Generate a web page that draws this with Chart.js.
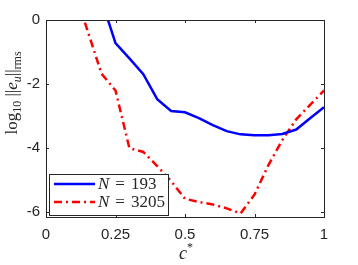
<!DOCTYPE html>
<html>
<head>
<meta charset="utf-8">
<script src="https://cdn.jsdelivr.net/npm/chart.js@4"></script>
<style>
  html, body { margin: 0; padding: 0; background: #fff; }
  #wrap { width: 358px; height: 265px; }
</style>
</head>
<body>
<div id="wrap"><canvas id="err-chart"></canvas></div>
<script>
// c* values (x) and log10 rms errors for the two node counts
const cStar = [0.1, 0.15, 0.2, 0.25, 0.3, 0.35, 0.4, 0.45, 0.5, 0.55, 0.6, 0.65, 0.7, 0.75, 0.8, 0.85, 0.9, 0.95, 1.0];
const err193 = [null, null, 0.61, -0.72, -1.2, -1.69, -2.47, -2.84, -2.88, -3.06, -3.28, -3.47, -3.57, -3.6, -3.6, -3.56, -3.42, -3.07, -2.72];
const err3205 = [0.99, -0.35, -1.68, -2.2, -4.0, -4.12, -4.56, -5.03, -5.58, -5.68, -5.76, -5.88, -6.04, -5.45, -4.53, -3.75, -3.1, -2.65, -2.2];
const seriesNames = ['193', '3205'];
const xTicks = [0, 0.25, 0.5, 0.75, 1];
const yTicks = [-6, -4, -2, 0];

const axisColor = '#262626';

function toXY(vals) {
  return cStar.map(function (c, i) { return { x: c, y: vals[i] }; });
}

// box, inward ticks, axis titles and the legend (MATLAB look)
const decor = {
  id: 'decor',
  afterDraw(chart) {
    const c = chart.ctx;
    const a = chart.chartArea;
    const xs = chart.scales.x, ys = chart.scales.y;
    c.save();
    c.strokeStyle = axisColor;
    c.lineWidth = 1;
    c.strokeRect(Math.round(a.left) + 0.5, Math.round(a.top) + 0.5, Math.round(a.right - a.left), Math.round(a.bottom - a.top));
    c.beginPath();
    xTicks.forEach(function (t) {
      const px = Math.round(xs.getPixelForValue(t)) + 0.5;
      c.moveTo(px, a.bottom); c.lineTo(px, a.bottom - 3);
      c.moveTo(px, a.top); c.lineTo(px, a.top + 3);
    });
    yTicks.forEach(function (t) {
      const py = Math.round(ys.getPixelForValue(t)) + 0.5;
      c.moveTo(a.left, py); c.lineTo(a.left + 3, py);
      c.moveTo(a.right, py); c.lineTo(a.right - 3, py);
    });
    c.stroke();

    // x title: c*
    c.fillStyle = axisColor;
    c.textBaseline = 'alphabetic';
    c.font = 'italic 18px "Liberation Serif"';
    const cx = (a.left + a.right) / 2;
    c.textAlign = 'left';
    c.fillText('c', cx - 6, 259);
    c.font = '12px "Liberation Serif"';
    c.fillText('*', cx + 2, 251);

    // y title: log10 ||e_u||rms
    c.save();
    c.translate(17, 93);
    c.rotate(-Math.PI / 2);
    const parts = [
      ['log', '17px "Liberation Serif"', 0],
      ['10', '12px "Liberation Serif"', 4],
      [' ||', '17px "Liberation Serif"', 0],
      ['e', 'italic 17px "Liberation Serif"', 0],
      ['u', 'italic 12px "Liberation Serif"', 4],
      ['||', '17px "Liberation Serif"', 0],
      ['rms', '12px "Liberation Serif"', 4]
    ];
    let total = 0;
    parts.forEach(function (p) { c.font = p[1]; total += c.measureText(p[0]).width; });
    let px = -total / 2;
    parts.forEach(function (p) {
      c.font = p[1];
      c.fillText(p[0], px, p[2]);
      px += c.measureText(p[0]).width;
    });
    c.restore();

    // legend
    const lx = a.left + 3, ly = a.bottom - 43, lw = 119, lh = 41;
    c.fillStyle = '#fff';
    c.fillRect(lx, ly, lw, lh);
    c.strokeStyle = axisColor;
    c.strokeRect(lx + 0.5, ly + 0.5, lw, lh);
    chart.data.datasets.forEach(function (ds, i) {
      const yy = ly + 10 + i * 18;
      c.beginPath();
      c.strokeStyle = ds.borderColor;
      c.lineWidth = ds.borderWidth;
      c.setLineDash(ds.borderDash || []);
      c.moveTo(lx + 5, yy); c.lineTo(lx + 46, yy);
      c.stroke();
      c.setLineDash([]);
      c.fillStyle = axisColor;
      c.textBaseline = 'middle';
      let tx = lx + 49;
      c.font = 'italic 17px "Liberation Serif"';
      c.fillText('N', tx, yy + 1);
      tx += c.measureText('N').width + 6;
      c.font = '17px "Liberation Serif"';
      c.fillText('=', tx, yy + 1);
      tx += c.measureText('=').width + 6;
      c.fillText(seriesNames[i], tx, yy + 1);
    });
    c.restore();
  }
};

new Chart(document.getElementById('err-chart'), {
  type: 'line',
  data: {
    datasets: [
      {
        label: 'N = ' + seriesNames[0],
        data: toXY(err193),
        borderColor: '#0000ff',
        borderWidth: 2.5,
        pointRadius: 0,
        tension: 0,
        spanGaps: false
      },
      {
        label: 'N = ' + seriesNames[1],
        data: toXY(err3205),
        borderColor: '#ff0000',
        borderWidth: 2.5,
        borderDash: [8, 4, 2, 4],
        pointRadius: 0,
        tension: 0
      }
    ]
  },
  options: {
    responsive: true,
    maintainAspectRatio: false,
    animation: false,
    layout: { padding: { left: 0, right: 34, top: 20, bottom: 0 } },
    plugins: { legend: { display: false }, tooltip: { enabled: false } },
    scales: {
      x: {
        type: 'linear',
        min: 0,
        max: 1,
        afterBuildTicks: function (s) { s.ticks = xTicks.map(function (v) { return { value: v }; }); },
        afterFit: function (s) { s.height = 48; },
        grid: { display: false, drawTicks: false },
        border: { display: false },
        ticks: {
          padding: 9,
          color: axisColor,
          font: { family: '"Liberation Sans"', size: 15 },
          maxRotation: 0,
          callback: function (v) { return String(v); }
        }
      },
      y: {
        min: -6.15,
        max: 0,
        afterBuildTicks: function (s) { s.ticks = yTicks.map(function (v) { return { value: v }; }); },
        afterFit: function (s) { s.width = 46; },
        grid: { display: false, drawTicks: false },
        border: { display: false },
        ticks: {
          padding: 6,
          color: axisColor,
          font: { family: '"Liberation Sans"', size: 15 },
          callback: function (v) { return String(v); }
        }
      }
    }
  },
  plugins: [decor]
});
</script>
</body>
</html>
